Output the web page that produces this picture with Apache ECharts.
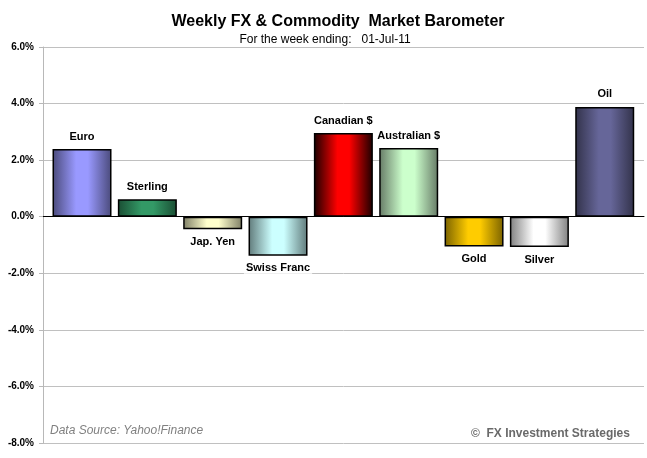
<!DOCTYPE html>
<html>
<head>
<meta charset="utf-8">
<script src="https://cdn.jsdelivr.net/npm/echarts@6/dist/echarts.min.js"></script>
<style>
html,body{margin:0;padding:0;background:#fff;}
#main{width:647px;height:458px;}
</style>
</head>
<body>
<div id="main"></div>
<script>
var categories = ['Euro','Sterling','Jap. Yen','Swiss Franc','Canadian $','Australian $','Gold','Silver','Oil'];
var changes = [2.39, 0.62, -0.44, -1.38, 2.96, 2.43, -1.05, -1.07, 3.88];
var yTicks = [-8, -6, -4, -2, 0, 2, 4, 6];

// light centre / dark edge of each bar
var lightColors = ['#9999ff','#339966','#ffffcc','#ccffff','#ff0000','#ccffcc','#ffcc00','#ffffff','#666699'];
var darkColors  = ['#4a4a7a','#1a4d33','#7f7f66','#607a7a','#1a0000','#667a66','#7a6200','#808080','#32324a'];

var font = 'Arial, "Liberation Sans", sans-serif';

var myChart = echarts.init(document.getElementById('main'));

var barData = [];
for (var i = 0; i < categories.length; i++) {
	var neg = changes[i] < 0;
	barData.push({
		value: [i, changes[i]],
		itemStyle: {
			color: {
				type: 'linear', x: 0, y: 0, x2: 1, y2: 0,
				colorStops: [
					{offset: 0, color: darkColors[i]},
					{offset: 0.4, color: lightColors[i]},
					{offset: 0.6, color: lightColors[i]},
					{offset: 1, color: darkColors[i]}
				]
			}
		},
		label: {position: neg ? 'bottom' : 'top'}
	});
}

myChart.setOption({
	animation: false,
	backgroundColor: '#fff',
	title: [{
		text: 'Weekly FX & Commodity  Market Barometer',
		left: 333, top: 9, textAlign: 'center',
		textStyle: {fontFamily: font, fontSize: 16, fontWeight: 'bold', color: '#000'}
	}, {
		text: 'For the week ending:   01-Jul-11',
		left: 320, top: 29, textAlign: 'center',
		textStyle: {fontFamily: font, fontSize: 12, fontWeight: 'normal', color: '#000'}
	}],
	grid: {left: 43, right: 3, top: 47, bottom: 15},
	xAxis: {
		type: 'value',
		min: -0.597, max: 8.601,
		axisLine: {show: true, onZero: true, lineStyle: {color: '#000', width: 1}},
		axisTick: {show: false},
		axisLabel: {show: false},
		splitLine: {show: false}
	},
	yAxis: {
		type: 'value',
		min: yTicks[0], max: yTicks[yTicks.length - 1], interval: 2,
		axisLine: {show: true, onZero: false, lineStyle: {color: '#b8b8b8'}},
		axisTick: {show: true, inside: false, length: 4, lineStyle: {color: '#b8b8b8'}},
		splitLine: {show: true, lineStyle: {color: '#c0c0c0'}},
		axisLabel: {
			margin: 9,
			fontFamily: font, fontSize: 10, fontWeight: 'bold', color: '#000',
			formatter: function (v) { return v.toFixed(1) + '%'; }
		}
	},
	series: [{
		type: 'bar',
		barWidth: 59,
		data: barData,
		itemStyle: {borderColor: '#000', borderWidth: 1.5},
		label: {
			show: true,
			distance: 7,
			fontFamily: font, fontSize: 11, fontWeight: 'bold', color: '#000',
			backgroundColor: '#fff',
			padding: [0, 2],
			formatter: function (p) { return categories[p.dataIndex]; }
		}
	}],
	graphic: [{
		type: 'text', left: 50, top: 425,
		style: {text: 'Data Source: Yahoo!Finance', fontFamily: font, fontSize: 12, fontStyle: 'italic', fill: '#808080'}
	}, {
		type: 'text', left: 471, top: 428,
		style: {text: '\u00a9  FX Investment Strategies', fontFamily: font, fontSize: 12, fontWeight: 'bold', fill: '#6a6a6a'}
	}]
});
</script>
</body>
</html>
